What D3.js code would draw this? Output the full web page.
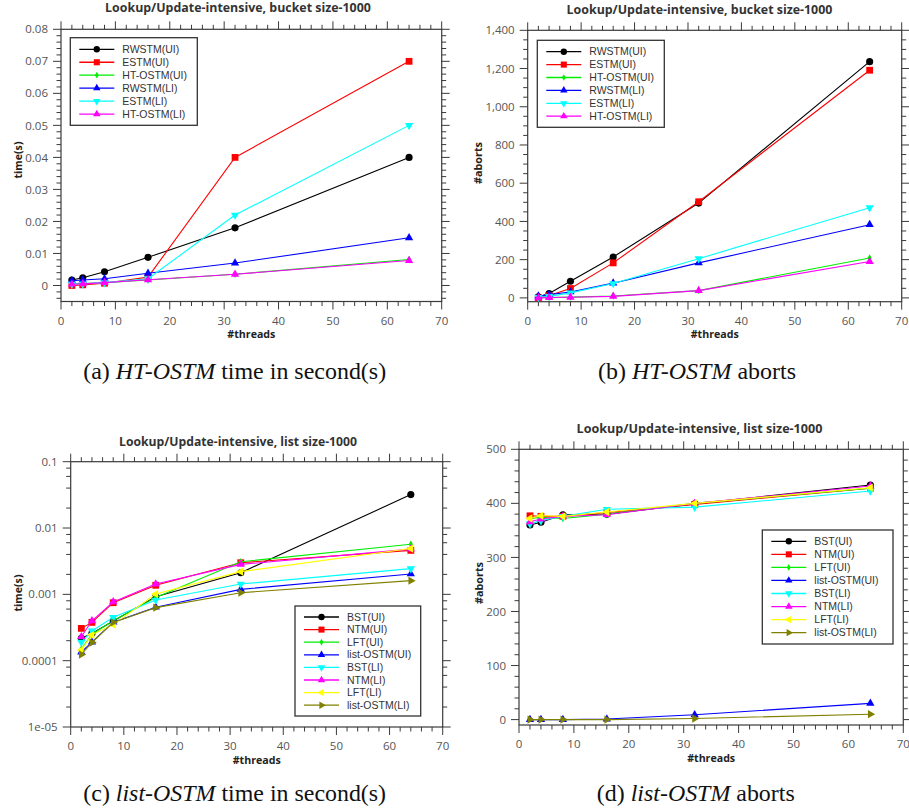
<!DOCTYPE html>
<html>
<head>
<meta charset="utf-8">
<script src="https://cdn.jsdelivr.net/npm/d3@7"></script>
<style>
	body { margin: 0; background: #fff; }
	svg { display: block; }
</style>
</head>
<body>
<div id="chart"></div>
<script>

var threads = [2, 4, 8, 16, 32, 64];

// (a) HT-OSTM time, seconds
var htNames = ['RWSTM(UI)', 'ESTM(UI)', 'HT-OSTM(UI)', 'RWSTM(LI)', 'ESTM(LI)', 'HT-OSTM(LI)'];
var htTimeRwstmUI = [0.0017, 0.0024, 0.0043, 0.0088, 0.018, 0.040];
var htTimeEstmUI = [0.0, 0.0002, 0.0007, 0.0026, 0.040, 0.070];
var htTimeHtostmUI = [0.0005, 0.0006, 0.0009, 0.0017, 0.0035, 0.0081];
var htTimeRwstmLI = [0.0015, 0.0017, 0.0021, 0.0038, 0.0070, 0.0149];
var htTimeEstmLI = [0.0004, 0.0005, 0.0009, 0.0021, 0.022, 0.050];
var htTimeHtostmLI = [0.0004, 0.0005, 0.0009, 0.0018, 0.0035, 0.0078];

// (b) HT-OSTM aborts
var htAbortRwstmUI = [5, 23, 87, 214, 496, 1236];
var htAbortEstmUI = [0, 12, 49, 183, 503, 1191];
var htAbortHtostmUI = [0, 2, 4, 10, 38, 209];
var htAbortRwstmLI = [9, 17, 31, 77, 183, 383];
var htAbortEstmLI = [3, 8, 26, 75, 205, 472];
var htAbortHtostmLI = [0, 2, 3, 8, 38, 190];

// (c) list-OSTM time, seconds (log axis)
var listNames = ['BST(UI)', 'NTM(UI)', 'LFT(UI)', 'list-OSTM(UI)', 'BST(LI)', 'NTM(LI)', 'LFT(LI)', 'list-OSTM(LI)'];
var listTimeBstUI = [2.17e-4, 2.58e-4, 3.96e-4, 9.2e-4, 2.12e-3, 3.19e-2];
var listTimeNtmUI = [3.07e-4, 3.78e-4, 7.48e-4, 1.37e-3, 3.0e-3, 4.6e-3];
var listTimeLftUI = [1.5e-4, 2.5e-4, 4.0e-4, 9.0e-4, 3.1e-3, 5.7e-3];
var listTimeOstmUI = [1.35e-4, 1.9e-4, 3.8e-4, 6.4e-4, 1.19e-3, 2.03e-3];
var listTimeBstLI = [1.9e-4, 2.8e-4, 4.5e-4, 8.2e-4, 1.43e-3, 2.44e-3];
var listTimeNtmLI = [2.3e-4, 4.0e-4, 7.7e-4, 1.43e-3, 2.83e-3, 4.8e-3];
var listTimeLftLI = [1.45e-4, 2.45e-4, 3.5e-4, 1.01e-3, 2.2e-3, 4.9e-3];
var listTimeOstmLI = [1.24e-4, 1.88e-4, 3.78e-4, 6.3e-4, 1.06e-3, 1.61e-3];

// (d) list-OSTM aborts
var listAbortBstUI = [360, 365, 379, 380, 399, 434];
var listAbortNtmUI = [377, 376, 376, 383, 398, 428];
var listAbortLftUI = [372, 374, 372, 380, 400, 428];
var listAbortOstmUI = [0, 0, 0, 1, 9, 30];
var listAbortBstLI = [362, 368, 376, 389, 393, 423];
var listAbortNtmLI = [366, 371, 376, 379, 400, 432];
var listAbortLftLI = [372, 377, 376, 384, 400, 429];
var listAbortOstmLI = [0, 0, 0, 0, 2, 10];

var logTickValues = [1e-5, 1e-4, 1e-3, 1e-2, 1e-1];
var logTickLabels = ['1e-05', '0.0001', '0.001', '0.01', '0.1'];

var htColors = ['#000000', '#ff0000', '#00ee00', '#0000ff', '#00ffff', '#ff00ff'];
var htShapes = ['circle', 'square', 'diamond', 'up', 'down', 'up'];
var listColors = ['#000000', '#ff0000', '#00ee00', '#0000ff', '#00ffff', '#ff00ff', '#ffff00', '#808000'];
var listShapes = ['circle', 'square', 'diamond', 'up', 'down', 'up', 'left', 'right'];

var FONT = '"Open Sans", "DejaVu Sans", sans-serif';
var LEGEND_FONT = '"Liberation Sans", Arial, sans-serif';
var SERIF = '"Liberation Serif", "Times New Roman", serif';

var svg = d3.select('#chart').append('svg').attr('width', 909).attr('height', 812);

function fit(text, width) {
	var w = text.node().getComputedTextLength();
	var fs = parseFloat(text.attr('font-size'));
	text.attr('font-size', (fs * width / w).toFixed(2));
}

function marker(g, shape, color, x, y, k) {
	var type = { circle: d3.symbolCircle, square: d3.symbolSquare, diamond: d3.symbolDiamond }[shape] || d3.symbolTriangle;
	var rot = { down: 180, left: -90, right: 90 }[shape] || 0;
	var size = { circle: 40, square: 46, diamond: 16 }[shape] || 30;
	g.append('path')
		.attr('d', d3.symbol().type(type).size(size * k)())
		.attr('transform', 'translate(' + x + ',' + y + ') rotate(' + rot + ')')
		.attr('fill', color);
}

function panel(p) {

	var g = svg.append('g');
	var x = d3.scaleLinear().domain([0, 70]).range([p.left, p.right]);
	var y = p.log ? d3.scaleLog().domain(p.ydomain).range([p.bottom, p.top]) : d3.scaleLinear().domain(p.ydomain).range([p.bottom, p.top]);

	// frame
	g.append('rect')
		.attr('x', p.left).attr('y', p.top)
		.attr('width', p.right - p.left).attr('height', p.bottom - p.top)
		.attr('fill', 'none').attr('stroke', '#3a3a3a').attr('stroke-width', 1.2);

	// ticks, outward on all four sides
	var ticks = g.append('g').attr('stroke', '#3a3a3a').attr('stroke-width', 1);
	var xMajor = d3.range(0, 71, 10);
	var xMinor = d3.range(0, 71, 2).filter(function(v) { return v % 10 !== 0; });

	function xtick(v, len) {
		ticks.append('line').attr('x1', x(v)).attr('x2', x(v)).attr('y1', p.bottom).attr('y2', p.bottom + len);
		ticks.append('line').attr('x1', x(v)).attr('x2', x(v)).attr('y1', p.top).attr('y2', p.top - len);
	}
	function ytick(v, len) {
		ticks.append('line').attr('y1', y(v)).attr('y2', y(v)).attr('x1', p.left).attr('x2', p.left - len);
		ticks.append('line').attr('y1', y(v)).attr('y2', y(v)).attr('x1', p.right).attr('x2', p.right + len);
	}

	xMajor.forEach(function(v) { xtick(v, 8); });
	xMinor.forEach(function(v) { xtick(v, 4.5); });
	p.yMajor.forEach(function(v) { ytick(v, 8); });
	p.yMinor.forEach(function(v) { ytick(v, 4.5); });

	// tick labels
	var labels = g.append('g').attr('font-family', FONT).attr('font-size', 11.5).attr('fill', '#555');
	xMajor.forEach(function(v) {
		labels.append('text').attr('x', x(v)).attr('y', p.bottom + 23).attr('text-anchor', 'middle').text(v);
	});
	p.yMajor.forEach(function(v, i) {
		labels.append('text').attr('x', p.left - 13).attr('y', y(v)).attr('dy', '0.36em')
			.attr('text-anchor', 'end').text(p.yLabels ? p.yLabels[i] : p.yFormat(v));
	});

	// titles
	var title = g.append('text').attr('x', p.titleX).attr('y', p.titleY).attr('text-anchor', 'middle')
		.attr('font-family', FONT).attr('font-weight', 'bold').attr('font-size', 12).attr('fill', '#333')
		.text(p.title);
	fit(title, p.titleW);

	var xl = g.append('text').attr('x', (p.left + p.right) / 2).attr('y', p.bottom + 36.5).attr('text-anchor', 'middle')
		.attr('font-family', FONT).attr('font-weight', 'bold').attr('font-size', 11.5).attr('fill', '#222')
		.text('#threads');
	fit(xl, 48);

	var yl = g.append('text').attr('transform', 'translate(' + p.yLabelX + ',' + p.yLabelY + ') rotate(-90)')
		.attr('text-anchor', 'middle')
		.attr('font-family', FONT).attr('font-weight', 'bold').attr('font-size', 11.5).attr('fill', '#222')
		.text(p.yTitle);
	fit(yl, p.yTitleW);

	// series
	var line = d3.line().x(function(d, i) { return x(threads[i]); }).y(function(d) { return y(d); });
	p.series.forEach(function(s, i) {
		g.append('path').datum(s).attr('d', line)
			.attr('fill', 'none').attr('stroke', p.colors[i]).attr('stroke-width', 1.1);
		s.forEach(function(v, j) {
			marker(g, p.shapes[i], p.colors[i], x(threads[j]), y(v), 1);
		});
	});

	// legend
	var L = p.legend;
	var lg = g.append('g');
	lg.append('rect').attr('x', L.x).attr('y', L.y).attr('width', L.w).attr('height', L.h)
		.attr('fill', '#fff').attr('stroke', '#333').attr('stroke-width', 1.3);
	p.names.forEach(function(name, i) {
		var ry = L.row0 + i * L.step;
		lg.append('line').attr('x1', L.x + 9).attr('x2', L.x + 44).attr('y1', ry).attr('y2', ry)
			.attr('stroke', p.colors[i]).attr('stroke-width', 1.3);
		marker(lg, p.shapes[i], p.colors[i], L.x + 26.5, ry, 0.8);
		lg.append('text').attr('x', L.x + 52).attr('y', ry).attr('dy', '0.35em')
			.attr('font-family', LEGEND_FONT).attr('font-size', 10.5).attr('fill', '#333').text(name);
	});

	// caption
	var cap = svg.append('text').attr('x', p.capX).attr('y', p.capY).attr('text-anchor', 'middle')
		.attr('font-family', SERIF).attr('font-size', 20).attr('fill', '#111');
	cap.append('tspan').text(p.caption[0]);
	cap.append('tspan').attr('font-style', 'italic').text(p.caption[1]);
	cap.append('tspan').text(p.caption[2]);
	fit(cap, p.capW);
}

function minorLinear(lo, hi, step, major) {
	return d3.range(lo, hi + step / 2, step).filter(function(v) {
		return Math.abs(v / major - Math.round(v / major)) > 1e-6;
	});
}

var logMinor = [];
[1e-5, 1e-4, 1e-3, 1e-2].forEach(function(d) {
	[2, 4, 6, 8].forEach(function(m) { logMinor.push(d * m); });
});

panel({
	left: 61, right: 441.7, top: 29.3, bottom: 301.5,
	ydomain: [-0.005, 0.08],
	yMajor: d3.range(0, 0.0801, 0.01),
	yMinor: minorLinear(-0.004, 0.08, 0.002, 0.01),
	yFormat: function(v) { return v === 0 ? '0' : d3.format('.2f')(v); },
	title: 'Lookup/Update-intensive, bucket size-1000', titleX: 238, titleY: 11.5, titleW: 266,
	yTitle: 'time(s)', yTitleW: 37, yLabelX: 22, yLabelY: 160,
	names: htNames, colors: htColors, shapes: htShapes,
	series: [htTimeRwstmUI, htTimeEstmUI, htTimeHtostmUI, htTimeRwstmLI, htTimeEstmLI, htTimeHtostmLI],
	legend: { x: 70.3, y: 37.7, w: 127, h: 87.6, row0: 49.3, step: 12.95 },
	caption: ['(a) ', 'HT-OSTM', ' time in second(s)'], capX: 234.7, capY: 379, capW: 303
});

panel({
	left: 527.7, right: 901.7, top: 30.3, bottom: 301.7,
	ydomain: [-20, 1400],
	yMajor: d3.range(0, 1401, 200),
	yMinor: minorLinear(0, 1400, 50, 200),
	yFormat: d3.format(','),
	title: 'Lookup/Update-intensive, bucket size-1000', titleX: 699.5, titleY: 13.5, titleW: 266,
	yTitle: '#aborts', yTitleW: 42, yLabelX: 482, yLabelY: 163,
	names: htNames, colors: htColors, shapes: htShapes,
	series: [htAbortRwstmUI, htAbortEstmUI, htAbortHtostmUI, htAbortRwstmLI, htAbortEstmLI, htAbortHtostmLI],
	legend: { x: 537.3, y: 40.3, w: 127, h: 87, row0: 51.7, step: 12.9 },
	caption: ['(b) ', 'HT-OSTM', ' aborts'], capX: 697, capY: 379, capW: 198
});

panel({
	left: 70.7, right: 442.7, top: 461.7, bottom: 727,
	log: true,
	ydomain: [1e-5, 0.1],
	yMajor: logTickValues,
	yLabels: logTickLabels,
	yMinor: logMinor,
	title: 'Lookup/Update-intensive, list size-1000', titleX: 238, titleY: 445.5, titleW: 238,
	yTitle: 'time(s)', yTitleW: 37, yLabelX: 21.5, yLabelY: 593,
	names: listNames, colors: listColors, shapes: listShapes,
	series: [listTimeBstUI, listTimeNtmUI, listTimeLftUI, listTimeOstmUI, listTimeBstLI, listTimeNtmLI, listTimeLftLI, listTimeOstmLI],
	legend: { x: 295, y: 606, w: 125.7, h: 110, row0: 617, step: 12.6 },
	caption: ['(c) ', 'list-OSTM', ' time in second(s)'], capX: 234.7, capY: 801, capW: 303
});

panel({
	left: 519, right: 903.3, top: 449.3, bottom: 725,
	ydomain: [-10, 500],
	yMajor: d3.range(0, 501, 100),
	yMinor: minorLinear(0, 500, 20, 100),
	yFormat: d3.format('d'),
	title: 'Lookup/Update-intensive, list size-1000', titleX: 699.5, titleY: 433, titleW: 246,
	yTitle: '#aborts', yTitleW: 42, yLabelX: 483, yLabelY: 583,
	names: listNames, colors: listColors, shapes: listShapes,
	series: [listAbortBstUI, listAbortNtmUI, listAbortLftUI, listAbortOstmUI, listAbortBstLI, listAbortNtmLI, listAbortLftLI, listAbortOstmLI],
	legend: { x: 762.3, y: 530, w: 130.7, h: 114, row0: 541.3, step: 13.05 },
	caption: ['(d) ', 'list-OSTM', ' aborts'], capX: 695.8, capY: 801, capW: 198
});

</script>
</body>
</html>
